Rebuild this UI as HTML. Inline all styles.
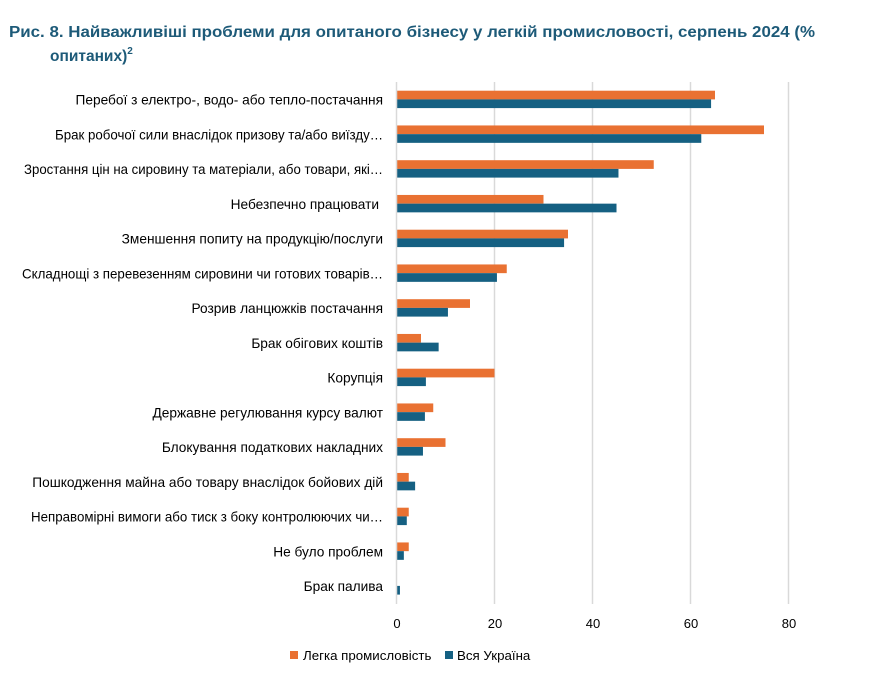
<!DOCTYPE html>
<html><head><meta charset="utf-8"><style>
body{margin:0;background:#fff;width:873px;height:679px;overflow:hidden;font-family:"Liberation Sans",sans-serif}
</style></head><body>
<svg width="873" height="679" xmlns="http://www.w3.org/2000/svg" font-family="Liberation Sans, sans-serif">
<text x="9" y="37" font-size="15.5" font-weight="bold" fill="#1d5a78" textLength="806" lengthAdjust="spacingAndGlyphs">Рис. 8. Найважливіші проблеми для опитаного бізнесу у легкій промисловості, серпень 2024 (%</text>
<text x="50" y="61" font-size="15.5" font-weight="bold" fill="#1d5a78">опитаних)<tspan font-size="10" dy="-7">2</tspan></text>
<g stroke="#d9d9d9" stroke-width="1.5">
<line x1="494.5" y1="82" x2="494.5" y2="604"/><line x1="592.5" y1="82" x2="592.5" y2="604"/><line x1="690.5" y1="82" x2="690.5" y2="604"/><line x1="788.5" y1="82" x2="788.5" y2="604"/>
</g>
<g id="bars"></g>
<line x1="396.5" y1="82" x2="396.5" y2="604" stroke="#d9d9d9" stroke-width="1.5"/>
<g font-size="13" fill="#000" text-anchor="middle">
<text x="397" y="628">0</text><text x="495" y="628">20</text><text x="593" y="628">40</text><text x="691" y="628">60</text><text x="789" y="628">80</text>
</g>
<rect x="290" y="651" width="8" height="8" fill="#e97132"/>
<text x="303" y="660" font-size="13.3" fill="#000">Легка промисловість</text>
<rect x="445" y="651" width="8" height="8" fill="#156082"/>
<text x="457" y="660" font-size="13.3" fill="#000">Вся Україна</text>
<g id="labels" font-size="13.7" fill="#000" text-anchor="end"></g>
<script>
var d=[["Перебої з електро-, водо- або тепло-постачання",65,64.2],
["Брак робочої сили внаслідок призову та/або виїзду…",75,62.2,328],
["Зростання цін на сировину та матеріали, або товари, які…",52.5,45.3,359],
["Небезпечно працювати ",30,44.9],
["Зменшення попиту на продукцію/послуги",35,34.2],
["Складнощі з перевезенням сировини чи готових товарів…",22.5,20.5,361],
["Розрив ланцюжків постачання",15,10.5],
["Брак обігових коштів",5,8.6],
["Корупція",20,6],
["Державне регулювання курсу валют",7.5,5.8],
["Блокування податкових накладних",10,5.4],
["Пошкодження майна або товару внаслідок бойових дій",2.5,3.8],
["Неправомірні вимоги або тиск з боку контролюючих чи…",2.5,2.1,352],
["Не було проблем",2.5,1.5],
["Брак палива",0,0.7]];
var ns="http://www.w3.org/2000/svg",b=document.getElementById("bars"),l=document.getElementById("labels");
d.forEach(function(r,i){var y0=90.7+i*34.75;
function R(v,y,c){if(v<=0)return;var e=document.createElementNS(ns,"rect");e.setAttribute("x",396.5);e.setAttribute("y",y);e.setAttribute("width",v*4.9);e.setAttribute("height",8.7);e.setAttribute("fill",c);b.appendChild(e);}
R(r[1],y0,"#e97132");R(r[2],y0+8.7,"#156082");
var t=document.createElementNS(ns,"text");t.setAttribute("x",r[0].slice(-1)==" "?379:383);t.setAttribute("y",y0+14);t.textContent=r[0];
if(r[3]){t.setAttribute("textLength",r[3]);t.setAttribute("lengthAdjust","spacingAndGlyphs");}
l.appendChild(t);});
</script>
</svg>
</body></html>
